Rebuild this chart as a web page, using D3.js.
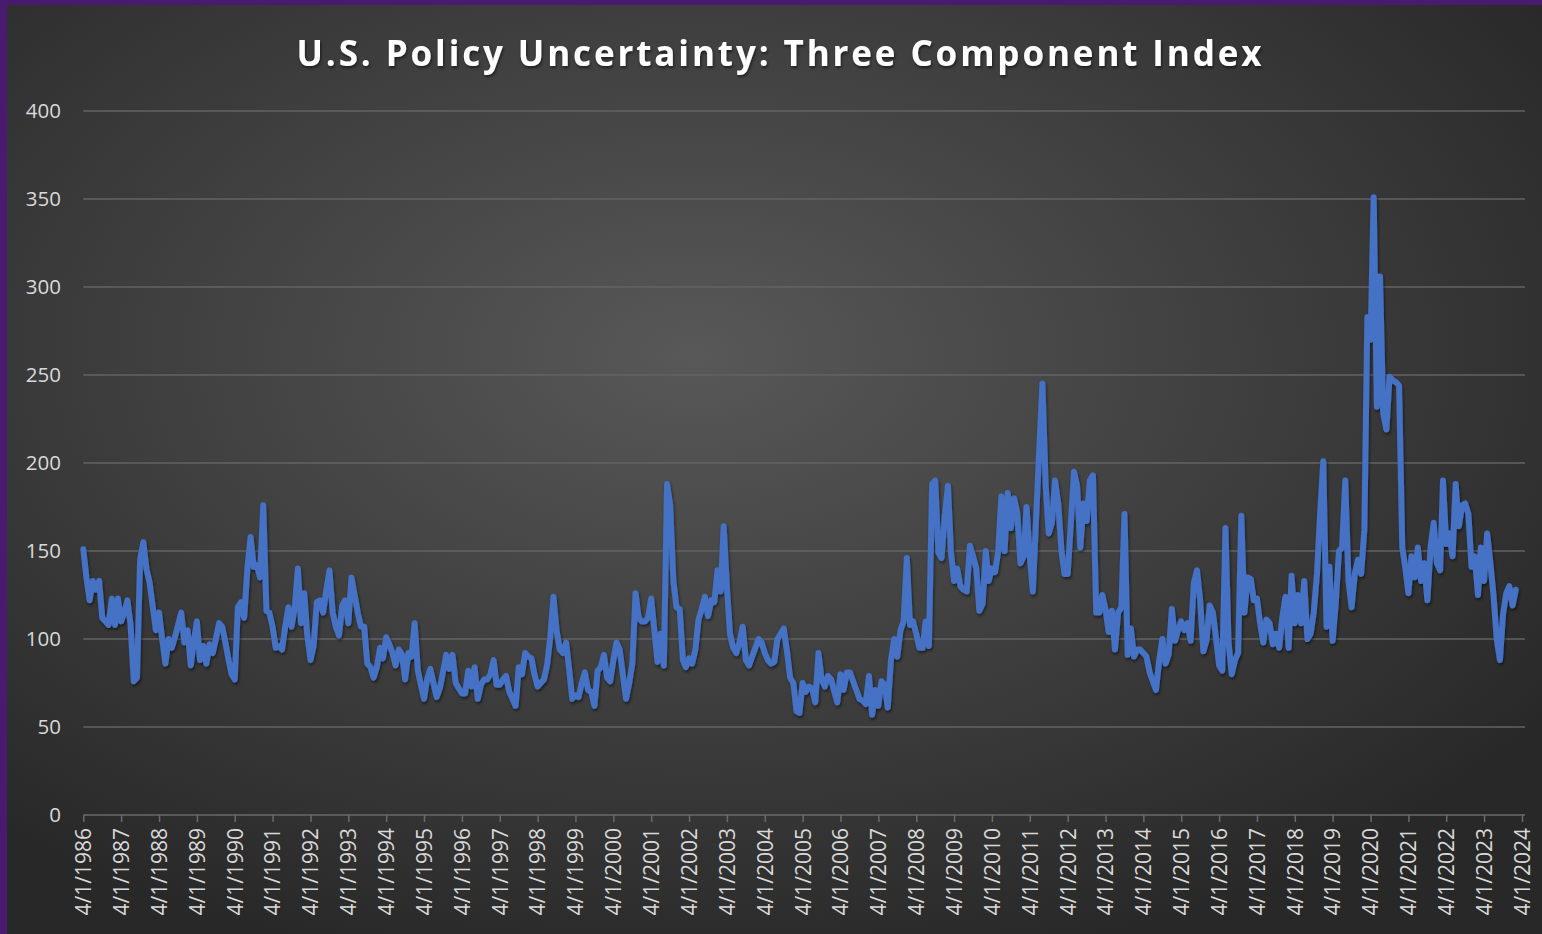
<!DOCTYPE html>
<html lang="en">
<head>
<meta charset="UTF-8">
<title>U.S. Policy Uncertainty: Three Component Index</title>
<script src="https://cdn.jsdelivr.net/npm/d3@7"></script>
<style>
    body { margin: 0; background: #2b2b2b; }
    svg { display: block; }
</style>
</head>
<body>
<div id="chart"></div>
<script>
    // monthly index values, first point is 4/1/1986; one row = Apr..Mar
    const START_DATE = new Date(1986, 3, 1);

    const values1986to1995 = [
        151, 135, 122, 133, 128, 133, 112, 110, 108, 123, 108, 123,
        110, 115, 122, 108, 76, 78, 145, 155, 140, 132, 118, 105,
        115, 100, 86, 100, 95, 101, 108, 115, 98, 105, 85, 98,
        110, 88, 96, 86, 97, 92, 100, 109, 107, 98, 88, 80,
        77, 118, 121, 112, 140, 158, 141, 142, 135, 176, 116, 115,
        107, 95, 96, 94, 107, 118, 107, 118, 140, 109, 126, 102,
        88, 96, 121, 122, 115, 128, 139, 115, 107, 102, 119, 122,
        109, 135, 125, 115, 107, 107, 86, 84, 78, 84, 95, 89,
        101, 97, 92, 85, 94, 91, 77, 92, 90, 109, 82, 74,
        66, 77, 83, 75, 67, 72, 81, 91, 83, 91, 75, 72
    ];
    const values1996to2005 = [
        69, 69, 82, 73, 84, 66, 74, 77, 77, 80, 88, 74,
        74, 77, 79, 70, 66, 62, 84, 80, 92, 90, 89, 80,
        73, 75, 77, 85, 101, 124, 105, 94, 92, 98, 82, 66,
        68, 67, 75, 81, 71, 70, 62, 82, 84, 91, 78, 76,
        88, 98, 94, 80, 66, 75, 86, 126, 112, 110, 110, 112,
        123, 105, 87, 103, 85, 188, 176, 133, 118, 117, 88, 84,
        89, 86, 94, 111, 117, 124, 113, 122, 121, 139, 127, 164,
        130, 103, 95, 92, 98, 107, 88, 85, 90, 95, 100, 98,
        92, 88, 86, 87, 100, 103, 106, 93, 78, 75, 59, 58,
        75, 70, 73, 72, 64, 92, 77, 73, 79, 77, 70, 64
    ];
    const values2006to2015 = [
        80, 71, 81, 81, 76, 71, 66, 65, 63, 79, 57, 71,
        62, 76, 74, 61, 88, 100, 90, 105, 110, 146, 108, 110,
        103, 95, 95, 110, 96, 188, 190, 149, 146, 170, 187, 150,
        133, 140, 130, 128, 127, 153, 147, 140, 116, 120, 150, 133,
        140, 138, 150, 181, 150, 183, 163, 180, 172, 143, 147, 175,
        147, 127, 168, 207, 245, 188, 160, 166, 190, 177, 150, 137,
        137, 165, 195, 187, 152, 177, 167, 190, 193, 115, 115, 125,
        117, 104, 116, 94, 115, 118, 171, 91, 106, 90, 94, 94,
        92, 90, 81, 76, 71, 88, 100, 86, 91, 117, 99, 105,
        110, 105, 109, 99, 132, 139, 122, 93, 99, 119, 115, 101
    ];
    const values2016to2024 = [
        85, 82, 163, 98, 80, 88, 92, 170, 115, 135, 134, 122,
        123, 109, 98, 111, 109, 97, 103, 95, 112, 124, 95, 136,
        109, 125, 109, 133, 100, 103, 115, 137, 171, 201, 107, 141,
        99, 120, 150, 152, 190, 133, 118, 137, 145, 137, 162, 283,
        270, 351, 232, 306, 228, 219, 249, 247, 246, 244, 152, 141,
        126, 147, 135, 152, 133, 143, 122, 152, 166, 143, 139, 190,
        154, 160, 147, 188, 164, 176, 177, 171, 141, 147, 125, 152,
        133, 160, 143, 125, 100, 88, 114, 126, 130, 119, 128
    ];

    const yTicks = [0, 50, 100, 150, 200, 250, 300, 350, 400];
    const tickYears = d3.range(1986, 2025);
    const TITLE = "U.S. Policy Uncertainty: Three Component Index";

    var width = 1542, height = 934;
    var plot = {left: 83.3, right: 1522, top: 111, bottom: 815};

    var allValues = values1986to1995.concat(values1996to2005, values2006to2015, values2016to2024);
    var data = allValues.map(function (v, i) {
        return {date: d3.timeMonth.offset(START_DATE, i), value: v};
    });

    var svg = d3.select("#chart").append("svg")
        .attr("width", width)
        .attr("height", height);

    var defs = svg.append("defs");
    var grad = defs.append("radialGradient")
        .attr("id", "bg")
        .attr("cx", "45%").attr("cy", "38%").attr("r", "68%");
    grad.append("stop").attr("offset", "0%").attr("stop-color", "#585858");
    grad.append("stop").attr("offset", "100%").attr("stop-color", "#282828");

    var shadow = defs.append("filter").attr("id", "shadow")
        .attr("x", "-5%").attr("y", "-5%").attr("width", "110%").attr("height", "120%");
    shadow.append("feDropShadow")
        .attr("dx", 1).attr("dy", 2).attr("stdDeviation", 1.5)
        .attr("flood-color", "#000").attr("flood-opacity", 0.55);

    // background + purple frame
    svg.append("rect").attr("width", width).attr("height", height).attr("fill", "url(#bg)");
    svg.append("rect").attr("x", 0).attr("y", 0).attr("width", width).attr("height", 5).attr("fill", "#4a1a70");
    svg.append("rect").attr("x", 0).attr("y", 0).attr("width", 7).attr("height", height).attr("fill", "#4a1a70");

    var x = d3.scaleTime()
        .domain([START_DATE, new Date(2024, 3, 1)])
        .range([plot.left, plot.right]);
    var y = d3.scaleLinear()
        .domain([0, 400])
        .range([plot.bottom, plot.top]);

    // gridlines
    svg.append("g")
        .selectAll("line")
        .data(yTicks.filter(function (d) { return d > 0; }))
        .enter().append("line")
        .attr("x1", plot.left).attr("x2", 1525)
        .attr("y1", function (d) { return y(d); })
        .attr("y2", function (d) { return y(d); })
        .attr("stroke", "#636363")
        .attr("stroke-width", 1.5);

    // y axis labels
    svg.append("g")
        .selectAll("text")
        .data(yTicks)
        .enter().append("text")
        .attr("x", 61)
        .attr("y", function (d) { return y(d); })
        .attr("dy", "0.35em")
        .attr("text-anchor", "end")
        .style("font-family", "'Open Sans', sans-serif")
        .style("font-size", "20.5px")
        .attr("fill", "#d9d9d9")
        .text(function (d) { return d; });

    // x axis
    var xAxis = svg.append("g")
        .attr("transform", "translate(0," + plot.bottom + ")")
        .call(d3.axisBottom(x)
            .tickValues(tickYears.map(function (yr) { return new Date(yr, 3, 1); }))
            .tickFormat(d3.timeFormat("%-m/%-d/%Y"))
            .tickSizeInner(7)
            .tickSizeOuter(0));
    xAxis.select(".domain").attr("stroke", "#6a6a6a").attr("stroke-width", 1.5)
        .attr("d", "M" + plot.left + ",0H1525");
    xAxis.selectAll(".tick line").attr("stroke", "#6a6a6a").attr("stroke-width", 1.5);
    xAxis.selectAll(".tick text")
        .attr("fill", "#d9d9d9")
        .style("font-family", "'Open Sans', sans-serif")
        .style("font-size", "21px")
        .attr("text-anchor", "end")
        .attr("transform", "rotate(-90)")
        .attr("x", -13)
        .attr("y", 0)
        .attr("dy", "0.35em");

    // the index line
    var line = d3.line()
        .x(function (d) { return x(d.date); })
        .y(function (d) { return y(d.value); });

    svg.append("path")
        .datum(data)
        .attr("d", line)
        .attr("fill", "none")
        .attr("stroke", "#4472c4")
        .attr("stroke-width", 6)
        .attr("stroke-linejoin", "round")
        .attr("stroke-linecap", "round")
        .attr("filter", "url(#shadow)");

    // title
    svg.append("text")
        .attr("x", 779)
        .attr("y", 66)
        .attr("text-anchor", "middle")
        .attr("textLength", 965)
        .attr("lengthAdjust", "spacing")
        .style("font-family", "'Open Sans', sans-serif")
        .style("font-weight", "700")
        .style("font-size", "35px")
        .attr("fill", "#ffffff")
        .attr("filter", "url(#shadow)")
        .text(TITLE);
</script>
</body>
</html>
